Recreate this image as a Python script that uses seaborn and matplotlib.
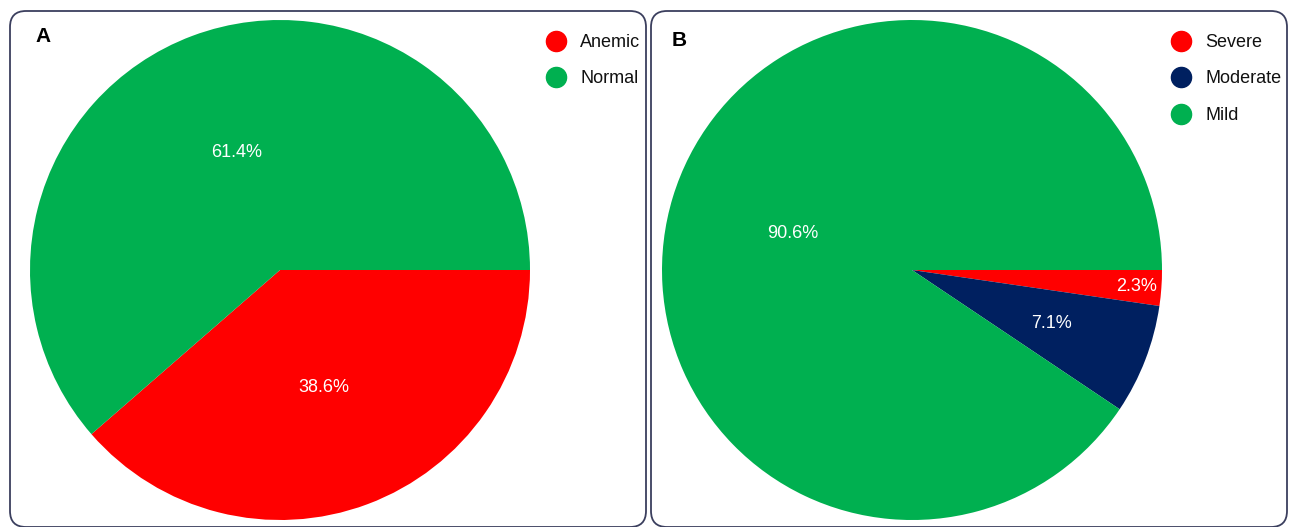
import numpy as np
import matplotlib
matplotlib.use("Agg")
import matplotlib.pyplot as plt
import seaborn as sns
from matplotlib.patches import FancyBboxPatch
from matplotlib.lines import Line2D

# ---- data ----
a_labels = ["Anemic", "Normal"]
a_values = [38.6, 61.4]
a_colors = ["#FF0000", "#00B050"]

b_labels = ["Severe", "Moderate", "Mild"]
b_values = [2.3, 7.1, 90.6]
b_colors = ["#FF0000", "#002060", "#00B050"]
b_label_dist = [0.9, 0.6, 0.5]

sns.set_theme(style="white")
plt.rcParams['font.family'] = ['Liberation Sans', 'DejaVu Sans']

W, H = 1290, 527
fig = plt.figure(figsize=(W / 100, H / 100), dpi=100)
fig.patch.set_facecolor("white")

# panel borders (display pixels)
for (x0, x1) in [(10, 646), (651, 1287)]:
    box = FancyBboxPatch((x0, 0), x1 - x0, 516, boxstyle="round,pad=0,rounding_size=16",
                         transform=None, facecolor="none", edgecolor="#3b3f5e", linewidth=1.3)
    fig.add_artist(box)


def pie_panel(cx, cy, values, colors, dists):
    r = 250
    ax = fig.add_axes([(cx - r) / W, (H - cy - r) / H, 2 * r / W, 2 * r / H])
    wedges, texts, autotexts = ax.pie(values, colors=colors, startangle=0, counterclock=False,
                                      autopct='%1.1f%%', pctdistance=0.5,
                                      wedgeprops=dict(linewidth=0),
                                      textprops=dict(color="white", fontsize=13))
    for w, t, d in zip(wedges, autotexts, dists):
        ang = np.deg2rad((w.theta1 + w.theta2) / 2)
        t.set_position((d * np.cos(ang), d * np.sin(ang)))
    ax.set_xlim(-1, 1)
    ax.set_ylim(-1, 1)
    ax.set_aspect("equal")
    ax.axis("off")
    return ax

pie_panel(280, 270, a_values, a_colors, [0.5, 0.5])
pie_panel(912, 270, b_values, b_colors, b_label_dist)

fig.text(43 / W, 1 - 36 / H, "A", fontsize=15, fontweight="bold", ha="center", va="center", color="black")
fig.text(679 / W, 1 - 41 / H, "B", fontsize=15, fontweight="bold", ha="center", va="center", color="black")


def make_legend(labels, colors, x, y):
    handles = [Line2D([0], [0], marker='o', linestyle='none', markersize=14.5,
                      markerfacecolor=c, markeredgecolor=c) for c in colors]
    leg = fig.legend(handles, labels, loc="upper left", bbox_to_anchor=(x / W, 1 - y / H),
                     frameon=False, fontsize=13, labelspacing=1.08, handlelength=1.0,
                     handletextpad=0.85, borderpad=0, borderaxespad=0)
    for t in leg.get_texts():
        t.set_color("#111111")
    return leg

make_legend(a_labels, a_colors, 547, 34)
make_legend(b_labels, b_colors, 1172, 34)

fig.savefig("out.png", dpi=100, facecolor="white")
